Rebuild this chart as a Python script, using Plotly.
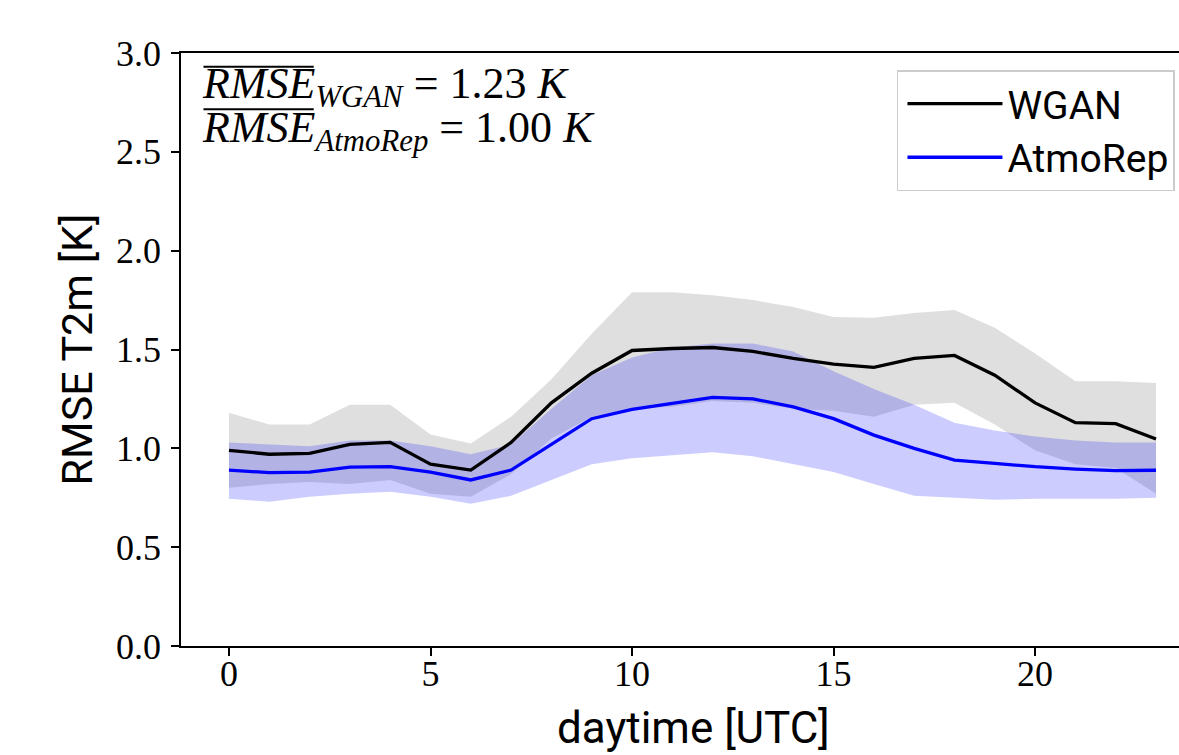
import plotly.graph_objects as go

hours = list(range(24))

wgan_mean = [0.99, 0.97, 0.975, 1.02, 1.03, 0.92, 0.89, 1.03, 1.23, 1.38, 1.495, 1.505,
             1.51, 1.49, 1.455, 1.426, 1.41, 1.455, 1.47, 1.37, 1.23, 1.13, 1.125, 1.047]
wgan_upper = [1.18, 1.12, 1.12, 1.22, 1.22, 1.07, 1.025, 1.16, 1.35, 1.58, 1.79, 1.79,
              1.775, 1.75, 1.715, 1.665, 1.66, 1.685, 1.70, 1.61, 1.48, 1.34, 1.34, 1.33]
wgan_lower = [0.80, 0.82, 0.83, 0.82, 0.84, 0.77, 0.755, 0.87, 1.05, 1.16, 1.20, 1.21,
              1.24, 1.23, 1.20, 1.19, 1.16, 1.22, 1.23, 1.12, 0.99, 0.92, 0.90, 0.77]

atmo_mean = [0.89, 0.877, 0.88, 0.905, 0.907, 0.88, 0.84, 0.89, 1.02, 1.15, 1.197, 1.227,
             1.258, 1.25, 1.21, 1.15, 1.067, 1.0, 0.94, 0.924, 0.907, 0.895, 0.887, 0.889]
atmo_upper = [1.03, 1.02, 1.01, 1.04, 1.04, 1.01, 0.97, 1.02, 1.20, 1.37, 1.46, 1.51,
              1.53, 1.53, 1.49, 1.39, 1.30, 1.22, 1.13, 1.09, 1.06, 1.04, 1.03, 1.03]
atmo_lower = [0.745, 0.73, 0.755, 0.77, 0.78, 0.755, 0.72, 0.76, 0.84, 0.92, 0.95, 0.966,
              0.98, 0.96, 0.92, 0.88, 0.82, 0.76, 0.75, 0.74, 0.745, 0.745, 0.745, 0.75]

y_ticks = [0.0, 0.5, 1.0, 1.5, 2.0, 2.5, 3.0]
x_ticks = [0, 5, 10, 15, 20]

series_names = ["WGAN", "AtmoRep"]
mean_rmse = [1.23, 1.00]

SANS = "Roboto"
SERIF = "Liberation Serif"

fig = go.Figure()

# WGAN band
fig.add_trace(go.Scatter(x=hours, y=wgan_upper, mode="lines", line=dict(width=0),
                         showlegend=False, hoverinfo="skip"))
fig.add_trace(go.Scatter(x=hours, y=wgan_lower, mode="lines", line=dict(width=0),
                         fill="tonexty", fillcolor="rgba(128,128,128,0.25)",
                         showlegend=False, hoverinfo="skip"))
# AtmoRep band
fig.add_trace(go.Scatter(x=hours, y=atmo_upper, mode="lines", line=dict(width=0),
                         showlegend=False, hoverinfo="skip"))
fig.add_trace(go.Scatter(x=hours, y=atmo_lower, mode="lines", line=dict(width=0),
                         fill="tonexty", fillcolor="rgba(0,0,255,0.2)",
                         showlegend=False, hoverinfo="skip"))
# mean lines
fig.add_trace(go.Scatter(x=hours, y=wgan_mean, mode="lines", name=series_names[0],
                         line=dict(color="black", width=3.3)))
fig.add_trace(go.Scatter(x=hours, y=atmo_mean, mode="lines", name=series_names[1],
                         line=dict(color="#0000ff", width=3.3)))

ann_font = dict(family=SERIF, size=44, color="black")
lines = [
    '<i>RMSE</i><sub><i>WGAN</i></sub> = %.2f <i>K</i>' % mean_rmse[0],
    '<i>RMSE</i><sub><i>AtmoRep</i></sub> = %.2f <i>K</i>' % mean_rmse[1],
]
fig.add_annotation(text=lines[0], xref="paper", yref="paper", x=0.019, y=0.943,
                   xanchor="left", yanchor="middle", showarrow=False, font=ann_font)
fig.add_annotation(text=lines[1], xref="paper", yref="paper", x=0.019, y=0.869,
                   xanchor="left", yanchor="middle", showarrow=False, font=ann_font)
# overline bars over "RMSE" (text decoration)
for yb in (0.977, 0.905):
    fig.add_shape(type="line", xref="paper", yref="paper", x0=0.0225, x1=0.133,
                  y0=yb, y1=yb, line=dict(color="black", width=2))

# x axis title (centered on the full matplotlib axes, which extends past the crop)
fig.add_annotation(text="daytime [UTC]", xref="paper", yref="paper", x=0.514, y=-0.138,
                   xanchor="center", yanchor="middle", showarrow=False,
                   font=dict(family=SANS, size=44, color="black"))

fig.update_layout(
    width=1179, height=755,
    margin=dict(l=181, r=0, t=53, b=109),
    paper_bgcolor="white", plot_bgcolor="white",
    showlegend=True,
    legend=dict(x=0.7174, y=0.971, xanchor="left", yanchor="top", traceorder="normal",
                bgcolor="rgba(255,255,255,0.8)", bordercolor="#cccccc", borderwidth=1.5,
                font=dict(family=SANS, size=39, color="black"),
                itemwidth=95, indentation=4, tracegroupgap=0),
    xaxis=dict(range=[-1.19, 23.57], tickvals=x_ticks, ticktext=[str(v) for v in x_ticks],
               showgrid=False, zeroline=False, showline=True, linecolor="black", linewidth=1.6,
               mirror=True, ticks="outside", ticklen=8, tickwidth=1.5, tickcolor="black",
               tickfont=dict(family=SERIF, size=36, color="black"), ticklabelstandoff=-13),
    yaxis=dict(range=[0, 3], tickvals=y_ticks, ticktext=["%.1f" % v for v in y_ticks],
               showgrid=False, zeroline=False, showline=True, linecolor="black", linewidth=1.6,
               ticks="outside", ticklen=8, tickwidth=1.5, tickcolor="black",
               tickfont=dict(family=SERIF, size=36, color="black"), ticklabelstandoff=3,
               title=dict(text="RMSE T2m [K]", font=dict(family=SANS, size=43, color="black"),
                          standoff=10)),
)

fig.write_html("out.html", config={"displayModeBar": False},
               post_script="document.body.style.margin='0px';")
